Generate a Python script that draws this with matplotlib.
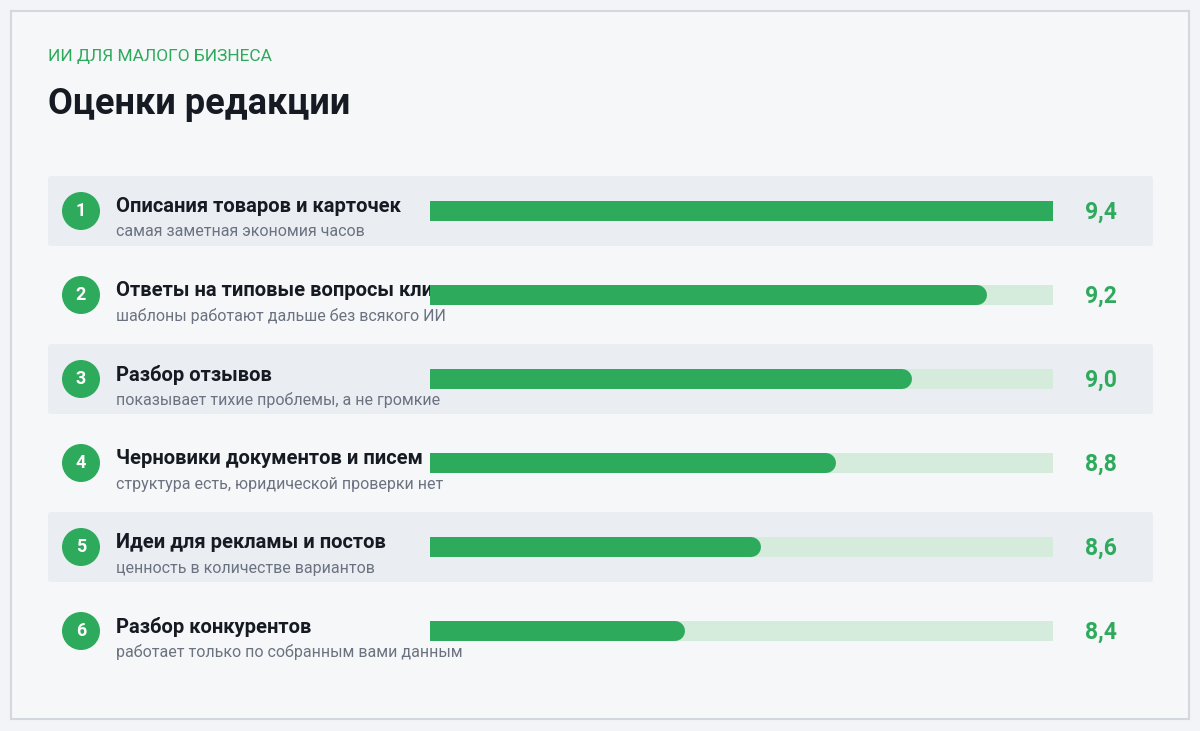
import matplotlib.pyplot as plt
from matplotlib.patches import Rectangle, FancyBboxPatch, Circle

titles = ["Описания товаров и карточек", "Ответы на типовые вопросы клиентов",
          "Разбор отзывов", "Черновики документов и писем",
          "Идеи для рекламы и постов", "Разбор конкурентов"]
notes = ["самая заметная экономия часов", "шаблоны работают дальше без всякого ИИ",
         "показывает тихие проблемы, а не громкие", "структура есть, юридической проверки нет",
         "ценность в количестве вариантов", "работает только по собранным вами данным"]
scores = [9.4, 9.2, 9.0, 8.8, 8.6, 8.4]
score_min, score_max = 7.75, 9.4

GREEN = "#2eaa5c"
TRACK = "#d5ecdc"
plt.rcParams["font.family"] = ["Roboto", "DejaVu Sans"]

fig = plt.figure(figsize=(12, 7.31), dpi=100)
fig.patch.set_facecolor("#f3f4f7")
bg = fig.add_axes([0, 0, 1, 1])
bg.set_xlim(0, 1200)
bg.set_ylim(731, 0)
bg.axis("off")

bg.add_patch(Rectangle((11, 11), 1178, 708, facecolor="#f6f7f9", edgecolor="#d3d7de", lw=1.5))
bg.text(48, 56, "ИИ ДЛЯ МАЛОГО БИЗНЕСА", color=GREEN, fontsize=12.5, va="center")
bg.text(48, 104, "Оценки редакции", color="#161a22", fontsize=26, fontweight="bold", va="center")

bars = fig.add_axes([430 / 1200, 0, 623 / 1200, 1])
bars.set_xlim(score_min, score_max)
bars.set_ylim(731, 0)
bars.axis("off")
bars.patch.set_alpha(0)

for i, (t, n, s) in enumerate(zip(titles, notes, scores)):
    y = 211 + 84 * i
    if i % 2 == 0:
        bg.add_patch(FancyBboxPatch((48, y - 35), 1105, 70, boxstyle="round,pad=0,rounding_size=3",
                                    facecolor="#eaedf2", edgecolor="none"))
    bg.add_patch(Circle((81, y), 19, facecolor=GREEN, edgecolor="none"))
    bg.text(81, y, str(i + 1), color="white", fontsize=13, fontweight="bold", ha="center", va="center")
    bg.text(116, y - 4, t, color="#161a22", fontsize=14.5, fontweight="bold", va="center")
    bg.text(116, y + 21, n, color="#6b7280", fontsize=11.5, va="center")
    bg.text(1101, y + 1, f"{s:.1f}".replace(".", ","), color=GREEN, fontsize=16.5,
            fontweight="bold", ha="center", va="center")
    bars.plot([score_min, score_max], [y, y], color=TRACK, lw=14.4, solid_capstyle="round")
    bars.plot([score_min, s], [y, y], color=GREEN, lw=14.4, solid_capstyle="round")

fig.savefig("out.png", dpi=100, facecolor=fig.get_facecolor())
